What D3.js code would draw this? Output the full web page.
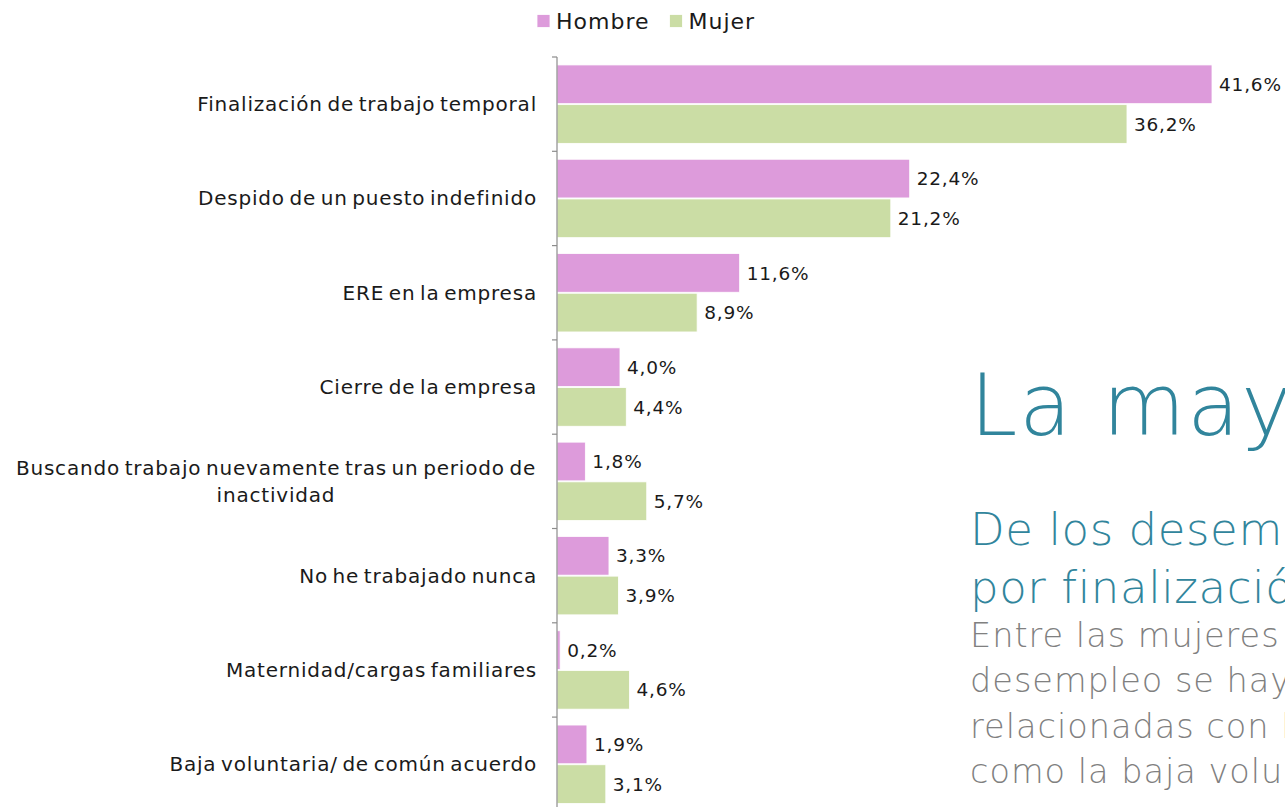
<!DOCTYPE html>
<html>
<head>
<meta charset="utf-8">
<script src="https://cdn.jsdelivr.net/npm/d3@7"></script>
<style>
  body { margin: 0; background: #fff; }
  svg { display: block; font-family: "DejaVu Sans", sans-serif; }
</style>
</head>
<body>
<div class="chart"></div>
<script>
// categories (top to bottom) and values
var categories = [
  "Finalización de trabajo temporal",
  "Despido de un puesto indefinido",
  "ERE en la empresa",
  "Cierre de la empresa",
  "Buscando trabajo nuevamente tras un periodo de|inactividad",
  "No he trabajado nunca",
  "Maternidad/cargas familiares",
  "Baja voluntaria/ de común acuerdo"
];
var series = ["Hombre", "Mujer"];
var hombre = [41.6, 22.4, 11.6, 4.0, 1.8, 3.3, 0.2, 1.9];
var mujer = [36.2, 21.2, 8.9, 4.4, 5.7, 3.9, 4.6, 3.1];
var colors = ["#DD9BDB", "#CBDDA5"];

var titleLine = "La mayoría";
var subLines = ["De los desempleados, la mayoría lo está", "por finalización de un trabajo temporal"];
var bodyLines = [
  "Entre las mujeres en",
  "desempleo se hayan más causas",
  "relacionadas con la empresa,",
  "como la baja voluntaria"
];

var W = 1285, H = 807;
var svg = d3.select(".chart").append("svg")
  .attr("width", W).attr("height", H);

// scales
var y0 = d3.scaleBand().domain(d3.range(categories.length)).range([57, 57 + 94.3 * 8]);
var y1 = d3.scaleBand().domain(series).range([0, y0.bandwidth()]).paddingInner(0.025).paddingOuter(0.2);
var x = d3.scaleLinear().domain([0, 41.6]).range([557, 1212]);

var rows = categories.map((c, i) => ({ i: i, label: c, vals: [hombre[i], mujer[i]] }));

// bars
var g = svg.selectAll(".cat").data(rows).enter().append("g")
  .attr("class", "cat")
  .attr("transform", d => `translate(0,${y0(d.i)})`);

g.selectAll("rect").data(d => d.vals.map((v, k) => ({ v: v, k: k }))).enter().append("rect")
  .attr("x", x(0))
  .attr("y", d => y1(series[d.k]))
  .attr("width", d => x(d.v) - x(0))
  .attr("height", y1.bandwidth())
  .attr("fill", d => colors[d.k])
  .attr("stroke", "#fff")
  .attr("stroke-width", 0.8);

// value labels
g.selectAll("text.val").data(d => d.vals.map((v, k) => ({ v: v, k: k }))).enter().append("text")
  .attr("class", "val")
  .attr("x", d => x(d.v) + 7)
  .attr("y", d => y1(series[d.k]) + y1.bandwidth() / 2)
  .attr("dy", "0.36em")
  .attr("font-size", 18.5)
  .attr("letter-spacing", 0.8)
  .attr("fill", "#1a1a1a")
  .text(d => d.v.toFixed(1).replace(".", ",") + "%");

// axis line with ticks between categories
var axisG = svg.append("g").attr("transform", "translate(557,0)");
axisG.append("line")
  .attr("y1", y0.range()[0]).attr("y2", y0.range()[1])
  .attr("stroke", "#8c8c8c").attr("stroke-width", 1.2);
axisG.selectAll("line.tick").data(d3.range(categories.length + 1)).enter().append("line")
  .attr("class", "tick")
  .attr("x1", -5).attr("x2", 0)
  .attr("y1", d => y0.range()[0] + d * y0.step())
  .attr("y2", d => y0.range()[0] + d * y0.step())
  .attr("stroke", "#8c8c8c").attr("stroke-width", 1.2);

// category labels (wrapped ones are centered as a block, right edge at 537)
g.each(function (d) {
  var lines = d.label.split("|");
  var t = d3.select(this).append("text")
    .attr("font-size", 20)
    .attr("letter-spacing", 0.8)
    .attr("word-spacing", -2.5)
    .attr("fill", "#1a1a1a");
  var mid = y0.bandwidth() / 2;
  var lh = 27;
  lines.forEach((s, j) => {
    t.append("tspan").attr("y", mid + (j - (lines.length - 1) / 2) * lh).attr("dy", "0.35em").text(s);
  });
  if (lines.length === 1) {
    t.attr("text-anchor", "end").selectAll("tspan").attr("x", 537);
  } else {
    var first = t.select("tspan").node().getComputedTextLength();
    t.attr("text-anchor", "middle").selectAll("tspan").attr("x", 536 - first / 2);
  }
});

// legend
var leg = svg.append("g").attr("transform", "translate(537,21)");
var lx = 0;
series.forEach((s, k) => {
  leg.append("rect").attr("x", lx).attr("y", -6.5).attr("width", 13).attr("height", 13)
    .attr("fill", colors[k]).attr("stroke", "#fff").attr("stroke-width", 0.8);
  var t = leg.append("text").attr("x", lx + 19).attr("dy", "0.36em")
    .attr("font-size", 22).attr("letter-spacing", 1).attr("fill", "#1a1a1a").text(s);
  lx += 19 + t.node().getComputedTextLength() + 20;
});

// slide text overlapping the right side
svg.append("text").attr("x", 970).attr("y", 435)
  .attr("font-size", 85).attr("font-weight", 200).attr("letter-spacing", 2)
  .attr("fill", "#31859C").text(titleLine);
subLines.forEach((s, j) => {
  svg.append("text").attr("x", 970).attr("y", 545 + j * 58)
    .attr("font-size", 45).attr("font-weight", 200).attr("letter-spacing", 0.6)
    .attr("fill", "#31859C").text(s);
});
bodyLines.forEach((s, j) => {
  svg.append("text").attr("x", 970).attr("y", 647 + j * 45.3)
    .attr("font-size", 33.5).attr("font-weight", 200).attr("letter-spacing", 1)
    .attr("fill", "#808080").text(s);
});
</script>
</body>
</html>
